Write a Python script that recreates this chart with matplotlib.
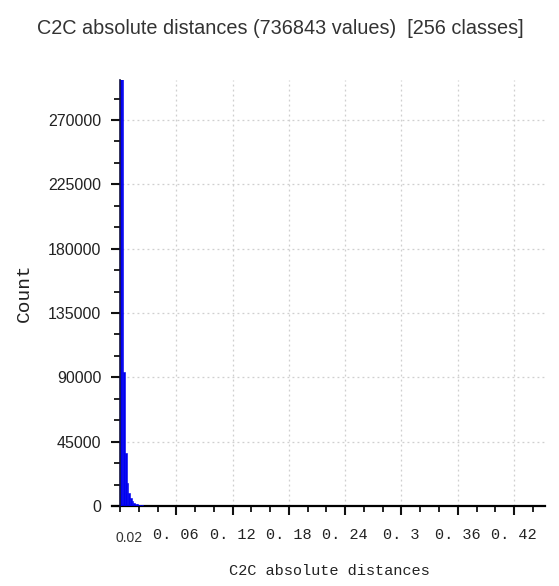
import numpy as np
import matplotlib
matplotlib.use("Agg")
import matplotlib.pyplot as plt
from matplotlib.ticker import MultipleLocator, FixedLocator

# ---- data -------------------------------------------------------------
n_classes = 256
dist_max = 0.452
# counts of the first classes (the remaining classes are ~0)
head_counts = [305000, 300000, 94000, 37000, 16000, 9000, 5600, 3600, 2400,
               1600, 1100, 800, 600, 450, 330, 250, 190, 140, 100, 80, 60,
               45, 35, 25, 20]
counts = np.zeros(n_classes)
counts[:len(head_counts)] = head_counts

x_major = [0.06, 0.12, 0.18, 0.24, 0.30, 0.36, 0.42]
x_labels = ["0. 06", "0. 12", "0. 18", "0. 24", "0. 3", "0. 36", "0. 42"]
y_major = [0, 45000, 90000, 135000, 180000, 225000, 270000]

title = "C2C absolute distances (736843 values)  [256 classes]"
xlabel = "C2C absolute distances"
ylabel = "Count"

# ---- figure -----------------------------------------------------------
W, H = 559, 586
fig = plt.figure(figsize=(W / 100, H / 100), dpi=100)
ax = fig.add_axes([112 / W, (H - 506) / H, (545 - 112) / W, (506 - 80) / H])

edges = np.linspace(0, dist_max, n_classes + 1)
ax.bar(edges[:-1], counts, width=np.diff(edges), align="edge",
       color="#0000f0", edgecolor="#0000f0", linewidth=0.4, zorder=3)

ax.set_xlim(-0.0085, 0.453)
ax.set_ylim(0, 298000)

for s in ["top", "right"]:
    ax.spines[s].set_visible(False)
ax.spines["left"].set_position(("data", 0))
ax.spines["left"].set_linewidth(1.2)
ax.spines["bottom"].set_linewidth(1.6)
ax.spines["left"].set_color("#101040")
ax.spines["left"].set_zorder(4)

ax.xaxis.set_major_locator(FixedLocator(x_major))
ax.set_xticklabels(x_labels, family="Liberation Mono", fontsize=11,
                   color="#222222")
ax.xaxis.set_minor_locator(MultipleLocator(0.02))
ax.yaxis.set_major_locator(FixedLocator(y_major))
ax.yaxis.set_minor_locator(MultipleLocator(15000))
ax.set_yticklabels([str(v) for v in y_major], family="Liberation Sans",
                   fontsize=11.5, color="#222222")

ax.tick_params(axis="both", which="major", length=6.5, width=1.5,
               direction="out", color="#111111")
ax.tick_params(axis="both", which="minor", length=4, width=1.3,
               direction="out", color="#111111")
ax.tick_params(axis="x", which="major", pad=9)
ax.tick_params(axis="y", which="major", pad=7)

ax.grid(True, which="major", linestyle=(0, (1.5, 2.5)), color="#cfcfcf",
        linewidth=0.9, zorder=0)

# small "0.02" label
ax.text(0.0095, -0.075, "0.02", transform=ax.get_xaxis_transform(),
        ha="center", va="center", fontsize=10, family="Liberation Sans",
        color="#333333")

fig.text(280 / W, 1 - 28 / H, title, ha="center", va="center",
         fontsize=14.3, family="Liberation Sans", color="#333333")
fig.text(329 / W, 1 - 571 / H, xlabel, ha="center", va="center",
         fontsize=11, family="Liberation Mono", color="#222222")
fig.text(24 / W, 1 - 293 / H, ylabel, ha="center", va="center",
         rotation=90, fontsize=14, family="Liberation Mono",
         color="#222222")

fig.savefig("out.png", dpi=100)
